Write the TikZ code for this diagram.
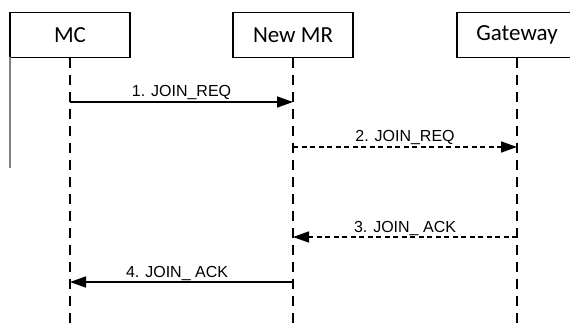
\documentclass[tikz,border=0pt]{standalone}
\usepackage{fontspec}
\setmainfont{Carlito}
\newfontfamily\msgfont{Liberation Sans}
\usetikzlibrary{arrows.meta}
\begin{document}
\begin{tikzpicture}[x=1pt,y=-1pt,
  actor/.style={draw,line width=1.3pt,minimum width=120pt,minimum height=44.5pt,
    inner sep=0pt,font=\fontsize{23}{25}\selectfont},
  lifeline/.style={line width=1.7pt,dash pattern=on 10pt off 7pt},
  msg/.style={line width=1.6pt,-{Triangle[length=16pt,width=11pt]}},
  dmsg/.style={msg,dash pattern=on 5pt off 3.5pt},
  msglabel/.style={font=\msgfont\fontsize{16}{18}\selectfont,anchor=base,inner sep=0pt}]
\clip (0,0) rectangle (570,326);
\fill[white] (0,0) rectangle (570,326);

% participants
\node[actor] (mc) at (70,35) {MC};
\node[actor] (mr) at (293,35) {New MR};
\node[actor] (gw) at (517,35) {Gateway};

% lifeline ends
\coordinate (mcEnd) at (70,330);
\coordinate (mrEnd) at (293,330);
\coordinate (gwEnd) at (517,330);
\draw[lifeline] (mc.south) -- (mcEnd);
\draw[lifeline] (mr.south) -- (mrEnd);
\draw[lifeline] (gw.south) -- (gwEnd);

% grey bar on the left
\coordinate (barTop) at (10,57);
\coordinate (barBot) at (10,168);
\draw[line width=1.8pt,gray] (barTop) -- (barBot);

% message points on the lifelines
\coordinate (mc1) at (70,102);
\coordinate (mr1) at (293,102);
\coordinate (mr2) at (293,147);
\coordinate (gw2) at (517,147);
\coordinate (gw3) at (517,237);
\coordinate (mr3) at (293,237);
\coordinate (mr4) at (293,282);
\coordinate (mc4) at (70,282);

% messages
\draw[msg] (mc1) -- (mr1) node[msglabel,midway,yshift=5pt] (l1) {1. JOIN\_REQ};
\draw[dmsg] (mr2) -- (gw2) node[msglabel,midway,yshift=5pt] (l2) {2. JOIN\_REQ};
\draw[dmsg] (gw3) -- (mr3) node[msglabel,midway,yshift=5pt] (l3) {3. JOIN\_ ACK};
\draw[msg] (mr4) -- (mc4) node[msglabel,pos=0.52,yshift=5pt] (l4) {4. JOIN\_ ACK};
\end{tikzpicture}
\end{document}
